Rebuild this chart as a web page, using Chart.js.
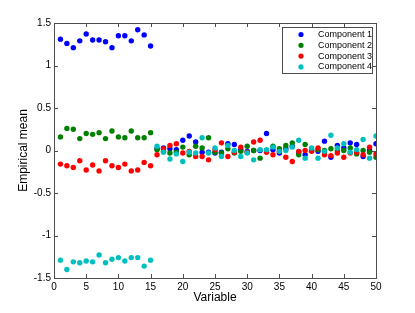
<!DOCTYPE html>
<html>
<head>
<meta charset="utf-8">
<script src="https://cdn.jsdelivr.net/npm/chart.js@4"></script>
<style>
  body { margin: 0; background: #fff; }
</style>
</head>
<body>
<canvas id="meanChart" width="415" height="313"></canvas>
<script>
// Variable index (x) and the empirical mean of each component
var variables = [];
for (var v = 1; v <= 50; v++) variables.push(v);

var seriesNames = ['Component 1', 'Component 2', 'Component 3', 'Component 4'];
var seriesColors = ['#0000ff', '#008000', '#ff0000', '#00bfbf'];

var component1 = [1.31, 1.26, 1.21, 1.29, 1.37, 1.30, 1.30, 1.28, 1.21, 1.35,
                  1.35, 1.29, 1.42, 1.36, 1.23,
                  0.02, 0.03, 0.02, 0.01, 0.12, 0.17, 0.10, -0.02, -0.02, -0.03,
                  -0.02, 0.08, 0.07, 0.01, -0.01, 0.00, 0.00, 0.20, 0.01, -0.03,
                  0.02, 0.05, -0.02, -0.05, 0.00, -0.01, 0.11, -0.08, 0.06, 0.03,
                  0.09, 0.07, -0.07, 0.00, 0.08];
var component2 = [0.16, 0.26, 0.25, 0.14, 0.20, 0.19, 0.21, 0.14, 0.23, 0.16,
                  0.15, 0.23, 0.15, 0.15, 0.21,
                  0.01, -0.01, -0.03, -0.02, 0.04, -0.05, 0.05, 0.03, 0.15, -0.02,
                  -0.03, 0.02, -0.03, -0.01, 0.05, 0.00, -0.09, 0.00, 0.05, 0.02,
                  0.06, 0.09, -0.05, 0.07, 0.01, 0.01, 0.00, 0.02, 0.00, 0.00,
                  0.03, -0.04, 0.00, -0.02, -0.08];
var component3 = [-0.16, -0.18, -0.20, -0.12, -0.23, -0.17, -0.24, -0.12, -0.18, -0.20,
                  -0.16, -0.24, -0.23, -0.14, -0.18,
                  -0.05, 0.02, 0.06, 0.08, -0.03, -0.01, -0.07, -0.07, -0.11, 0.01,
                  0.09, -0.07, -0.02, 0.04, -0.02, 0.10, 0.12, -0.02, -0.05, -0.01,
                  -0.08, -0.13, -0.01, 0.00, -0.01, 0.03, -0.05, -0.06, -0.03, -0.08,
                  -0.03, -0.02, -0.05, 0.04, -0.04];
var component4 = [-1.29, -1.40, -1.31, -1.32, -1.30, -1.31, -1.23, -1.32, -1.28, -1.26,
                  -1.30, -1.26, -1.26, -1.36, -1.29,
                  0.05, -0.02, -0.10, -0.04, -0.13, -0.02, -0.03, 0.15, -0.03, 0.03,
                  -0.07, 0.06, 0.00, -0.07, -0.03, -0.11, 0.01, 0.01, 0.04, -0.01,
                  0.00, 0.04, 0.12, -0.09, 0.03, -0.09, -0.01, 0.18, 0.03, 0.08,
                  -0.02, 0.01, 0.13, -0.09, 0.17];

var xTickValues = [0, 5, 10, 15, 20, 25, 30, 35, 40, 45, 50];
var xTickLabels = ['0', '5', '10', '15', '20', '25', '30', '35', '40', '45', '50'];
var yTickValues = [-1.5, -1, -0.5, 0, 0.5, 1, 1.5];
var yTickLabels = ['-1.5', '-1', '-0.5', '0', '0.5', '1', '1.5'];

var FONT = 'Liberation Sans, Arial, Helvetica, sans-serif';
var AXIS_COLOR = '#4d4d4d';

function toPoints(values) {
    return values.map(function (y, i) { return { x: variables[i], y: y }; });
}

// MATLAB style box with inward ticks on all four sides
var boxPlugin = {
    id: 'matlabBox',
    afterDatasetsDraw: function (chart) {
        var ctx = chart.ctx;
        var a = chart.chartArea;
        var xs = chart.scales.x, ys = chart.scales.y;
        var len = 4;
        ctx.save();
        ctx.strokeStyle = AXIS_COLOR;
        ctx.lineWidth = 1;
        ctx.beginPath();
        xTickValues.forEach(function (t) {
            var px = Math.round(xs.getPixelForValue(t)) + 0.5;
            ctx.moveTo(px, a.bottom); ctx.lineTo(px, a.bottom - len);
            ctx.moveTo(px, a.top); ctx.lineTo(px, a.top + len);
        });
        yTickValues.forEach(function (t) {
            var py = Math.round(ys.getPixelForValue(t)) + 0.5;
            ctx.moveTo(a.left, py); ctx.lineTo(a.left + len, py);
            ctx.moveTo(a.right, py); ctx.lineTo(a.right - len, py);
        });
        ctx.stroke();
        ctx.strokeRect(Math.round(a.left) + 0.5, Math.round(a.top) + 0.5,
                       Math.round(a.right - a.left), Math.round(a.bottom - a.top));
        ctx.restore();
    },
    afterDraw: function (chart) {
        // legend box in the upper right corner
        var ctx = chart.ctx;
        var a = chart.chartArea;
        var w = 90, h = 46;
        var bx = Math.round(a.right) - 4 - w, by = Math.round(a.top) + 4;
        ctx.save();
        ctx.fillStyle = '#fff';
        ctx.fillRect(bx, by, w, h);
        ctx.strokeStyle = AXIS_COLOR;
        ctx.lineWidth = 1;
        ctx.strokeRect(bx + 0.5, by + 0.5, w, h);
        ctx.font = '9px ' + FONT;
        ctx.textBaseline = 'middle';
        ctx.textAlign = 'left';
        seriesNames.forEach(function (name, i) {
            var ry = by + 7.5 + i * 10.8;
            ctx.fillStyle = seriesColors[i];
            ctx.beginPath();
            ctx.arc(bx + 19, ry, 2.6, 0, Math.PI * 2);
            ctx.fill();
            ctx.fillStyle = '#000';
            ctx.fillText(name, bx + 36, ry);
        });
        ctx.restore();
    }
};

function initializeChart() {
    var ctx = document.getElementById('meanChart').getContext('2d');
    var allSeries = [component1, component2, component3, component4];

    new Chart(ctx, {
        type: 'scatter',
        data: {
            datasets: allSeries.map(function (vals, i) {
                return {
                    label: seriesNames[i],
                    data: toPoints(vals),
                    backgroundColor: seriesColors[i],
                    borderColor: seriesColors[i],
                    borderWidth: 0,
                    pointRadius: 2.7,
                    order: 4 - i
                };
            })
        },
        options: {
            responsive: false,
            animation: false,
            devicePixelRatio: 1,
            layout: { padding: { top: 23, right: 39, left: 0, bottom: 0 } },
            plugins: {
                legend: { display: false },
                tooltip: { enabled: false }
            },
            scales: {
                x: {
                    type: 'linear',
                    min: 0,
                    max: 50,
                    afterBuildTicks: function (s) {
                        s.ticks = xTickValues.map(function (v) { return { value: v }; });
                    },
                    afterFit: function (s) { s.height = 35; },
                    grid: { display: false, drawTicks: false },
                    border: { display: false },
                    ticks: {
                        color: '#000',
                        padding: 3,
                        maxRotation: 0,
                        font: { family: FONT, size: 10 },
                        callback: function (v) { return xTickLabels[xTickValues.indexOf(v)]; }
                    },
                    title: {
                        display: true,
                        text: 'Variable',
                        color: '#000',
                        font: { family: FONT, size: 12 },
                        padding: { top: 0, bottom: 8 }
                    }
                },
                y: {
                    type: 'linear',
                    min: -1.5,
                    max: 1.5,
                    afterBuildTicks: function (s) {
                        s.ticks = yTickValues.map(function (v) { return { value: v }; });
                    },
                    afterFit: function (s) { s.width = 54; },
                    grid: { display: false, drawTicks: false },
                    border: { display: false },
                    ticks: {
                        color: '#000',
                        padding: 3,
                        font: { family: FONT, size: 10 },
                        callback: function (v) { return yTickLabels[yTickValues.indexOf(v)]; }
                    },
                    title: {
                        display: true,
                        text: 'Empirical mean',
                        color: '#000',
                        font: { family: FONT, size: 12 },
                        padding: { top: 16, bottom: 0 }
                    }
                }
            }
        },
        plugins: [boxPlugin]
    });
}

document.addEventListener('DOMContentLoaded', initializeChart);
</script>
</body>
</html>
